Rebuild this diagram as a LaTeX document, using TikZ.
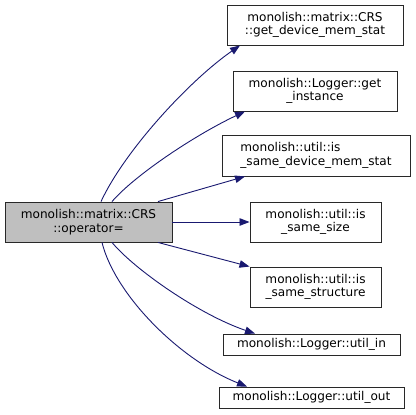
\documentclass[tikz,border=0pt]{standalone}
\usepackage{fontspec}
\setmainfont{DejaVu Sans}
\usetikzlibrary{arrows.meta}
\definecolor{edgeblue}{RGB}{25,25,112}
\definecolor{srcgray}{RGB}{191,191,191}
\definecolor{boxborder}{RGB}{40,40,40}
\begin{document}
\begin{tikzpicture}[x=1bp,y=-1bp,
  box/.style={draw=boxborder, line width=0.9bp, fill=white, inner sep=0pt, align=center,
    font=\fontsize{12.1bp}{13.4bp}\selectfont},
  edge/.style={draw=edgeblue, line width=0.9bp, -{Triangle[length=10bp,width=7.5bp]}}]
\useasboundingbox (0,0) rectangle (416,415);
\node[box, fill=srcgray, minimum width=167bp, minimum height=40bp] (src) at (88.5,222) {monolish::matrix::CRS\\::operator=};
\node[box, minimum width=176bp, minimum height=40bp] (b1) at (315,25) {monolish::matrix::CRS\\::get\_device\_mem\_stat};
\node[box, minimum width=164bp, minimum height=40bp] (b2) at (315,91) {monolish::Logger::get\\\_instance};
\node[box, align=left, minimum width=188bp, minimum height=41bp] (b3) at (316,155.5) {monolish::util::is\\\_same\_device\_mem\_stat};
\node[box, minimum width=131bp, minimum height=40bp] (b4) at (315.5,222) {monolish::util::is\\\_same\_size};
\node[box, minimum width=131bp, minimum height=40bp] (b5) at (315.5,287) {monolish::util::is\\\_same\_structure};
\node[box, minimum width=177bp, minimum height=21bp] (b6) at (311.5,344.5) {monolish::Logger::util\_in};
\node[box, minimum width=185bp, minimum height=21bp] (b7) at (311.5,397.5) {monolish::Logger::util\_out};
\coordinate (s1) at ([xshift=12.5bp]src.north);
\coordinate (s2) at ([xshift=23.5bp]src.north);
\coordinate (s3) at ([xshift=69.5bp]src.north);
\coordinate (s5) at ([xshift=69.5bp]src.south);
\coordinate (s6) at ([xshift=23.5bp]src.south);
\coordinate (s7) at ([xshift=13.5bp]src.south);
\coordinate (t1) at ([xshift=-75bp]b1.south);
\coordinate (t2) at ([xshift=-70bp]b2.south);
\coordinate (t3) at ([xshift=-71bp]b3.south);
\coordinate (t5) at ([xshift=-66bp]b5.north);
\coordinate (t6) at ([xshift=-56.5bp]b6.north);
\coordinate (t7) at ([xshift=-64.5bp]b7.north);
\draw[edge] (s1) .. controls (125,150) and (190,80) .. (t1);
\draw[edge] (s2) .. controls (135,175) and (195,135) .. (t2);
\draw[edge] (s3) -- (t3);
\draw[edge] (src.east) -- (b4.west);
\draw[edge] (s5) -- (t5);
\draw[edge] (s6) .. controls (135,270) and (200,315) .. (t6);
\draw[edge] (s7) .. controls (115,295) and (180,360) .. (t7);
\end{tikzpicture}
\end{document}
